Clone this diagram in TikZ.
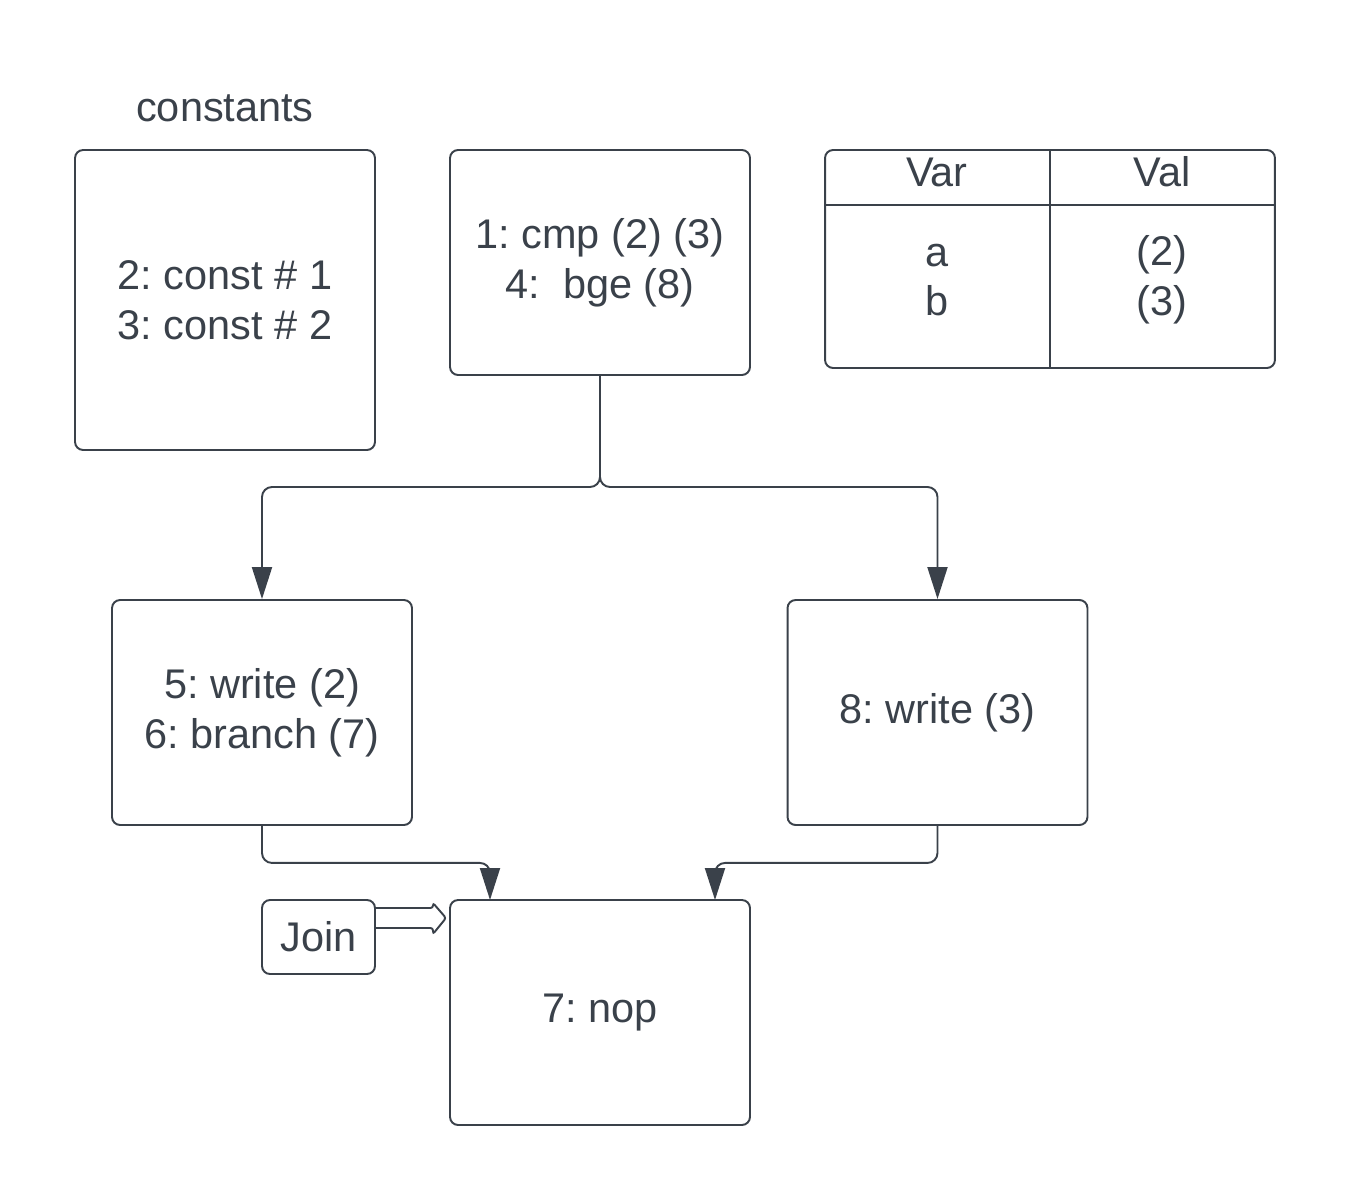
\documentclass[tikz,border=0pt]{standalone}
\usepackage{fontspec}
\setmainfont{Liberation Sans}
\usetikzlibrary{arrows.meta}
\definecolor{ink}{RGB}{58,65,74}
\frenchspacing
\begin{document}
\begin{tikzpicture}[x=0.02cm,y=-0.02cm,
  every node/.style={text=ink,font=\fontsize{23.6}{28.4}\selectfont\frenchspacing,align=center},
  box/.style={draw=ink,line width=1.1pt,rounded corners=0.16cm,minimum width=6cm,minimum height=4.5cm,inner sep=0pt},
  conn/.style={draw=ink,line width=1.1pt,rounded corners=0.2cm,-{Triangle[length=0.64cm,width=0.4cm]}}]
\useasboundingbox (0,0) rectangle (1350,1200);
% constants
\node (constlabel) at (225,108) {constants};
\node[box,minimum height=6cm] (const) at (225,300) {2: const \# 1\\3: const \# 2};
% cmp
\node[box] (cmp) at (600,262.5) {1: cmp (2) (3)\\4:\ \ bge (8)};
% table
\node[box,minimum width=9cm,minimum height=4.36cm] (table) at (1050,259) {};
\draw[draw=ink,line width=1.1pt] (825,205) -- (1275,205);
\draw[draw=ink,line width=1.1pt] (table.north) -- (table.south);
\node (var) at (937,172) {Var};
\node (val) at (1162,172) {Val};
\node (vars) at (937,280) {a\\b};
\node (vals) at (1162,280) {(2)\\(3)};
% write boxes
\node[box] (write2) at (262,712.5) {5: write (2)\\6: branch (7)};
\node[box] (write3) at (937.5,712.5) {8: write (3)};
\node[box] (nop) at (600,1012.5) {7: nop};
\node[box,minimum width=2.26cm,minimum height=1.48cm] (join) at (318.5,937) {Join};
% connectors
\coordinate (split) at (600,487);
\coordinate (j1) at (490,900);
\coordinate (j2) at (715,900);
\draw[conn] (cmp.south) -- (split) -| (write2.north);
\draw[conn] (cmp.south) -- (split) -| (write3.north);
\draw[conn] (write2.south) -- ++(0,37) -| (j1);
\draw[conn] (write3.south) -- ++(0,37) -| (j2);
% join arrow
\draw[draw=ink,line width=1.1pt,rounded corners=0.05cm]
  (join.east |- 0,908) -- (433,908) -- (433,903) -- (446,918) -- (433,934) -- (433,928) -- (join.east |- 0,928);
\end{tikzpicture}
\end{document}
